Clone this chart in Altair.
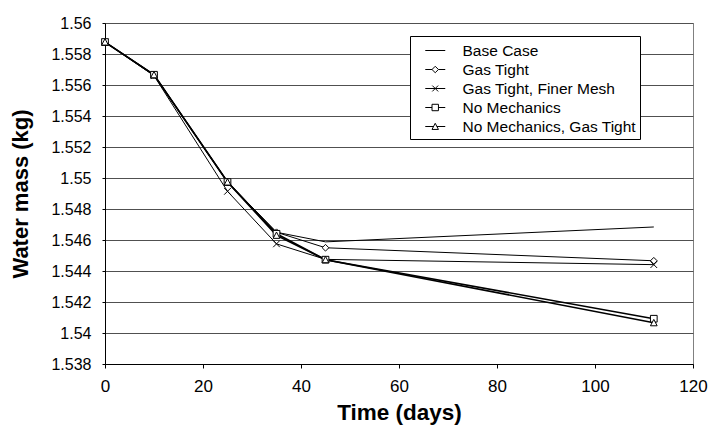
import altair as alt
import pandas as pd

# ---- data ----
DAYS = [0, 10, 25, 35, 45, 112]
SERIES = ["Base Case", "Gas Tight", "Gas Tight, Finer Mesh",
          "No Mechanics", "No Mechanics, Gas Tight"]
BASE_CASE = [1.55877, 1.55666, 1.54974, 1.54650, 1.54588, 1.54684]
GAS_TIGHT = [1.55877, 1.55666, 1.54974, 1.54650, 1.54550, 1.54466]
FINER_MESH = [1.55877, 1.55660, 1.54914, 1.54575, 1.54475, 1.54441]
NO_MECH = [1.55877, 1.55666, 1.54974, 1.54640, 1.54473, 1.54092]
NO_MECH_GT = [1.55877, 1.55666, 1.54974, 1.54630, 1.54473, 1.54066]
X_TICKS = [0, 20, 40, 60, 80, 100, 120]
Y_TICKS = [1.538, 1.54, 1.542, 1.544, 1.546, 1.548, 1.55,
           1.552, 1.554, 1.556, 1.558, 1.56]
THIN = SERIES[:3]
THICK = SERIES[3:]

VALUES = [BASE_CASE, GAS_TIGHT, FINER_MESH, NO_MECH, NO_MECH_GT]
rows = []
for name, vals in zip(SERIES, VALUES):
    for t, v in zip(DAYS, vals):
        rows.append({"t": t, "mass": v, "series": name})
df = pd.DataFrame(rows)

FONT = "Liberation Sans"

# marker shapes drawn on the chart
MARKERS = [
    "M0,-1L1,0L0,1L-1,0Z",            # diamond
    "M-1,-1L1,1M-1,1L1,-1",           # x
    "M-1,-1H1V1H-1Z",                 # square
    "M0,-1L1,0.9H-1Z",                # triangle
]
# legend symbols: line with marker in the middle
LEGEND_SYMBOLS = [
    "M0.08,0H2.13",
    "M0.08,0H0.77M1.43,0H2.13M1.1,-0.33L1.43,0L1.1,0.33L0.77,0Z",
    "M0.08,0H2.13M0.8,-0.3L1.4,0.3M0.8,0.3L1.4,-0.3",
    "M0.08,0H0.77M1.43,0H2.13M0.77,-0.33H1.43V0.33H0.77Z",
    "M0.08,0H0.93M1.27,0H2.13M1.1,-0.33L1.43,0.3H0.77Z",
]

x_enc = alt.X("t:Q",
              scale=alt.Scale(domain=[0, 120], nice=False, zero=False),
              axis=alt.Axis(values=X_TICKS, title="Time (days)", grid=False,
                            tickSize=4, labelPadding=10, titlePadding=7,
                            labelFontSize=17, titleFontSize=22.5,
                            labelFlush=False))
y_enc = alt.Y("mass:Q",
              scale=alt.Scale(domain=[1.538, 1.56], nice=False, zero=False),
              axis=alt.Axis(values=Y_TICKS, format=".3~f",
                            title="Water mass (kg)", grid=True,
                            tickSize=3, labelPadding=11, titlePadding=18,
                            labelFontSize=16, titleFontSize=22,
                            labelFlush=False))

base = alt.Chart(df)

lines_thin = base.transform_filter(
    alt.FieldOneOfPredicate(field="series", oneOf=THIN)
).mark_line(color="black", strokeWidth=1).encode(
    x=x_enc, y=y_enc, detail="series:N")

lines_thick = base.transform_filter(
    alt.FieldOneOfPredicate(field="series", oneOf=THICK)
).mark_line(color="black", strokeWidth=1.6).encode(
    x=x_enc, y=y_enc, detail="series:N")

points = base.transform_filter(
    alt.FieldOneOfPredicate(field="series", oneOf=SERIES[1:])
).mark_point(filled=True, fill="white", stroke="black", strokeWidth=1,
             opacity=1, size=45).encode(
    x=x_enc, y=y_enc,
    shape=alt.Shape("series:N",
                    scale=alt.Scale(domain=SERIES[1:], range=MARKERS),
                    legend=None))

legend_layer = base.transform_filter("datum.t < -1").mark_point(
    filled=False, color="black", strokeWidth=1, opacity=1
).encode(
    x=x_enc, y=y_enc,
    shape=alt.Shape("series:N",
                    scale=alt.Scale(domain=SERIES, range=LEGEND_SYMBOLS),
                    legend=alt.Legend(
                        orient="none", legendX=305, legendY=13, title=None,
                        padding=4, strokeColor="black", fillColor="white",
                        cornerRadius=0, symbolSize=380, symbolStrokeWidth=1,
                        symbolStrokeColor="black",
                        symbolOpacity=1, labelFontSize=15.5,
                        labelOffset=27.5, rowPadding=0, labelFont=FONT,
                        labelColor="black", labelLimit=400)))

chart = alt.layer(lines_thin, lines_thick, points, legend_layer).resolve_scale(
    shape="independent"
).properties(
    width=588, height=341,
    autosize=alt.AutoSizeParams(type="none"),
    padding={"left": 105, "top": 23, "right": 18, "bottom": 64},
    background="white",
).configure_view(
    stroke="#808080", strokeWidth=1
).configure_axis(
    labelFont=FONT, titleFont=FONT, labelColor="black", titleColor="black",
    titleFontWeight="bold", domainColor="black", domainWidth=1,
    tickColor="black", gridColor="#505050", gridWidth=1,
)

chart.save("out.html", embed_options={"renderer": "svg", "actions": False})
